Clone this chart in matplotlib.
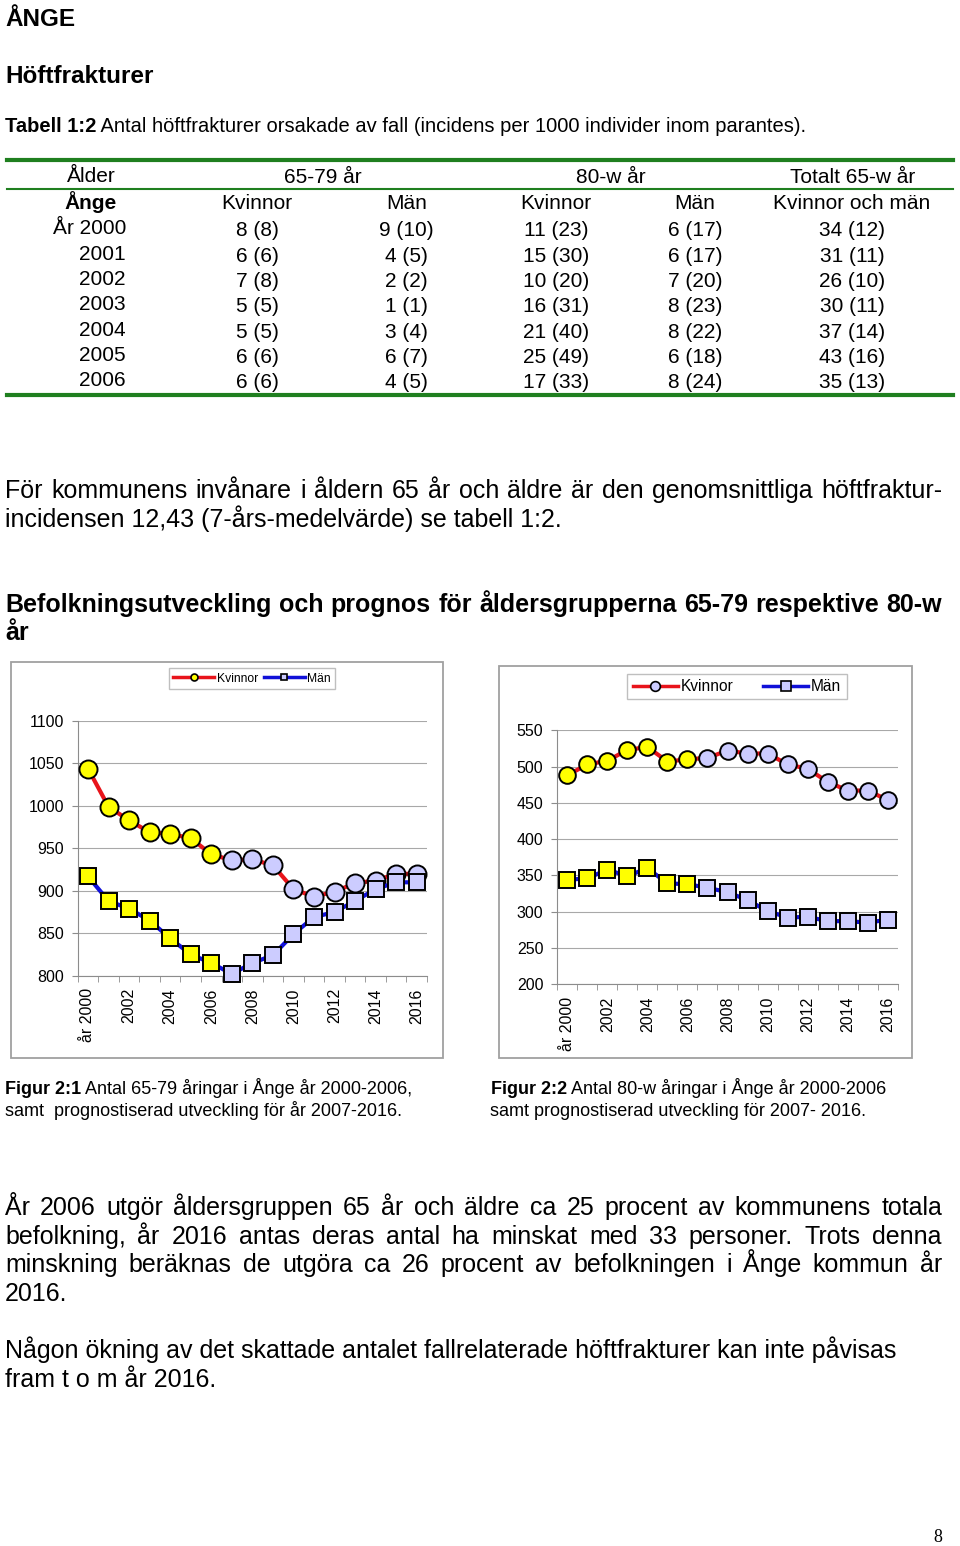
import numpy as np
import matplotlib
matplotlib.use("Agg")
import matplotlib.pyplot as plt
from matplotlib.patches import Rectangle
from matplotlib.lines import Line2D

plt.rcParams['font.family'] = ['Liberation Sans', 'DejaVu Sans']

# --- data ---
years = list(range(2000, 2017))
n_hist = 7  # 2000-2006 observed, 2007-2016 forecast
x_labels = ["år 2000", "2002", "2004", "2006", "2008", "2010", "2012", "2014", "2016"]

kv_6579 = [1044, 999, 983, 969, 967, 962, 943, 936, 937, 930, 902, 893, 899, 909, 912, 920, 920]
man_6579 = [917, 888, 879, 865, 844, 825, 815, 802, 815, 824, 849, 869, 875, 888, 902, 910, 910]
kv_80 = [488, 503, 508, 523, 527, 507, 510, 512, 522, 518, 518, 503, 497, 479, 467, 467, 454]
man_80 = [344, 346, 358, 349, 360, 339, 338, 333, 327, 316, 301, 292, 293, 287, 287, 285, 289]

tab_years = ["År 2000", "2001", "2002", "2003", "2004", "2005", "2006"]
tab_kv_6579 = ["8 (8)", "6 (6)", "7 (8)", "5 (5)", "5 (5)", "6 (6)", "6 (6)"]
tab_man_6579 = ["9 (10)", "4 (5)", "2 (2)", "1 (1)", "3 (4)", "6 (7)", "4 (5)"]
tab_kv_80 = ["11 (23)", "15 (30)", "10 (20)", "16 (31)", "21 (40)", "25 (49)", "17 (33)"]
tab_man_80 = ["6 (17)", "6 (17)", "7 (20)", "8 (23)", "8 (22)", "6 (18)", "8 (24)"]
tab_tot = ["34 (12)", "31 (11)", "26 (10)", "30 (11)", "37 (14)", "43 (16)", "35 (13)"]

RED = '#e8141b'
BLUE = '#1010d8'
YELLOW = '#ffff00'
LAVENDER = '#ccccff'
GREEN = '#1f7f1f'
GRID = '#a8a8a8'

W, H = 960, 1546
fig = plt.figure(figsize=(9.6, 15.46), dpi=100)
renderer = fig.canvas.get_renderer()


def fx(x):
    return x / W


def fy(y):
    return 1 - y / H


def txt(x, y, s, size, **kw):
    return fig.text(fx(x), fy(y), s, fontsize=size, va='baseline', **kw)


def width(t):
    return t.get_window_extent(renderer).width


def mixed(x, y, bold, rest, size):
    t = txt(x, y, bold, size, weight='bold')
    txt(x + width(t), y, " " + rest, size)


def justify(x0, x1, y, s, size, **kw):
    words = s.split()
    ts = [txt(0, y, w, size, **kw) for w in words]
    ws = [width(t) for t in ts]
    gap = (x1 - x0 - sum(ws)) / (len(words) - 1)
    pos = x0
    for t, w in zip(ts, ws):
        t.set_x(fx(pos))
        pos += w + gap


# --- headings ---
txt(5, 26, "ÅNGE", 17.5, weight='bold')
txt(5, 83, "Höftfrakturer", 17.5, weight='bold')
mixed(5, 132, "Tabell 1:2",
      "Antal höftfrakturer orsakade av fall (incidens per 1000 individer inom parantes).", 14.5)

# --- table ---
for y, lw in [(160, 3), (189, 1.5), (395, 3)]:
    fig.add_artist(Line2D([fx(7), fx(953)], [fy(y), fy(y)], color=GREEN, lw=lw))

ts = 15
txt(91, 182, "Ålder", ts, ha='center')
txt(323, 183, "65-79 år", ts, ha='center')
txt(611, 183, "80-w år", ts, ha='center')
txt(853, 183, "Totalt 65-w år", ts, ha='center')
txt(91, 209, "Ånge", ts, ha='center', weight='bold')
for cx, s in [(257, "Kvinnor"), (407, "Män"), (556, "Kvinnor"), (695, "Män"), (852, "Kvinnor och män")]:
    txt(cx, 209, s, ts, ha='center')

row_y = 234.5
for i in range(len(tab_years)):
    y = row_y + i * 25.3
    txt(126, y, tab_years[i], ts, ha='right')
    for cx, col in [(257, tab_kv_6579), (406, tab_man_6579), (556, tab_kv_80),
                    (695, tab_man_80), (852, tab_tot)]:
        txt(cx, y + 2, col[i], ts, ha='center')

# --- paragraphs ---
bs = 18
justify(5, 942, 498, "För kommunens invånare i åldern 65 år och äldre är den genomsnittliga höftfraktur-", bs)
txt(5, 527, "incidensen 12,43 (7-års-medelvärde) se tabell 1:2.", bs)
justify(5, 942, 612, "Befolkningsutveckling och prognos för åldersgrupperna 65-79 respektive 80-w", bs, weight='bold')
txt(5, 640, "år", bs, weight='bold')


# --- charts ---
def chart(frame, box, kv, man, ylim, yticks, leg_center, leg_size, leg_hl, leg_cs, leg_ms, kv_leg_fc, ms_c):
    fl, ft, fr, fb = frame
    fig.add_artist(Rectangle((fx(fl), fy(fb)), fx(fr - fl), (fb - ft) / H,
                             transform=fig.transFigure, fill=False, ec='#a0a0a0', lw=1.3))
    l, t, r, b = box
    ax = fig.add_axes([fx(l), fy(b), fx(r - l), (b - t) / H])
    xs = np.arange(len(years))
    ax.plot(xs, kv, color=RED, lw=3, zorder=2, clip_on=False)
    ax.plot(xs[:n_hist], kv[:n_hist], 'o', ms=ms_c, mfc=YELLOW, mec='black', mew=1.4, zorder=3, clip_on=False)
    ax.plot(xs[n_hist:], kv[n_hist:], 'o', ms=ms_c, mfc=LAVENDER, mec='black', mew=1.4, zorder=3, clip_on=False)
    ax.plot(xs, man, color=BLUE, lw=3, zorder=4, clip_on=False)
    ax.plot(xs[:n_hist], man[:n_hist], 's', ms=12, mfc=YELLOW, mec='black', mew=1.4, zorder=5, clip_on=False)
    ax.plot(xs[n_hist:], man[n_hist:], 's', ms=12, mfc=LAVENDER, mec='black', mew=1.4, zorder=5, clip_on=False)

    ax.set_xlim(-0.5, len(years) - 0.5)
    ax.set_ylim(*ylim)
    ax.set_yticks(yticks)
    ax.set_xticks(xs[::2])
    ax.set_xticklabels(x_labels, rotation=90, fontsize=11.5)
    ax.set_xticks(np.arange(-0.5, len(years), 1), minor=True)
    ax.tick_params(axis='x', which='major', length=0, pad=9)
    ax.tick_params(axis='x', which='minor', length=4, color='#8c8c8c')
    ax.tick_params(axis='y', length=4, color='#8c8c8c', labelsize=11.5, pad=6)
    ax.yaxis.grid(True, color=GRID, lw=0.8)
    ax.set_axisbelow(True)
    for s in ['top', 'right']:
        ax.spines[s].set_visible(False)
    for s in ['left', 'bottom']:
        ax.spines[s].set_color('#8c8c8c')
        ax.spines[s].set_linewidth(0.8)
    ax.patch.set_alpha(0)

    handles = [Line2D([], [], color=RED, lw=2.5, marker='o', ms=leg_ms, mfc=kv_leg_fc, mec='black', mew=1.2),
               Line2D([], [], color=BLUE, lw=2.5, marker='s', ms=leg_ms, mfc=LAVENDER, mec='black', mew=1.2)]
    leg = ax.legend(handles, ["Kvinnor", "Män"], ncol=2, loc='center',
                    bbox_to_anchor=(fx(leg_center[0]), fy(leg_center[1])), bbox_transform=fig.transFigure,
                    fontsize=leg_size, handlelength=leg_hl, handletextpad=0.2, columnspacing=leg_cs,
                    fancybox=False, edgecolor='#b0b0b0', borderpad=0.35, borderaxespad=0)
    leg.get_frame().set_linewidth(1)
    return ax


chart((11, 662, 443, 1058), (77.7, 721, 427, 975.7), kv_6579, man_6579, (800, 1100),
      range(800, 1101, 50), (252, 678.5), 8.7, 3.4, 0.5, 5, YELLOW, 13)
chart((499, 666, 912, 1058), (557.3, 730.3, 897.7, 984.3), kv_80, man_80, (200, 550),
      range(200, 551, 50), (737, 686.5), 11.2, 2.9, 1.9, 7, LAVENDER, 12)

# --- captions ---
cs = 13
mixed(5, 1094, "Figur 2:1", "Antal 65-79 åringar i Ånge år 2000-2006,", cs)
txt(5, 1116, "samt  prognostiserad utveckling för år 2007-2016.", cs)
mixed(491, 1094, "Figur 2:2", "Antal 80-w åringar i Ånge år 2000-2006", cs)
txt(490, 1116, "samt prognostiserad utveckling för 2007- 2016.", cs)

# --- closing text ---
lines = ["År 2006 utgör åldersgruppen 65 år och äldre ca 25 procent av kommunens totala",
         "befolkning, år 2016 antas deras antal ha minskat med 33 personer. Trots denna",
         "minskning beräknas de utgöra ca 26 procent av befolkningen i Ånge kommun år"]
for i, s in enumerate(lines):
    justify(5, 942, 1215 + i * 28.7, s, bs)
txt(5, 1215 + 3 * 28.7, "2016.", bs)
txt(5, 1358, "Någon ökning av det skattade antalet fallrelaterade höftfrakturer kan inte påvisas", bs)
txt(5, 1387, "fram t o m år 2016.", bs)

fig.text(fx(938), fy(1538), "8", fontsize=13, ha='center', va='center', family=['Liberation Serif', 'DejaVu Serif'])

fig.savefig("out.png", dpi=100)
